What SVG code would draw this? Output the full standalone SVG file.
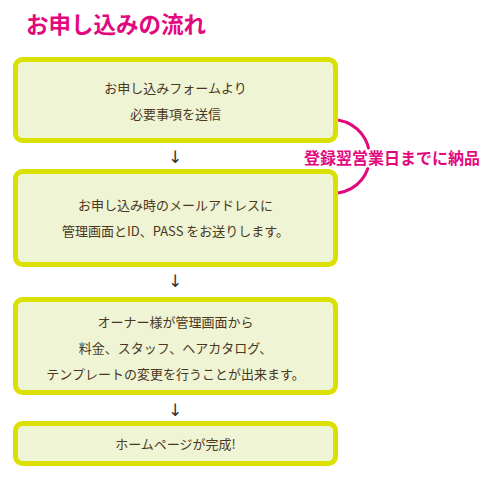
<svg xmlns="http://www.w3.org/2000/svg" width="500" height="480" viewBox="0 0 500 480">
<style>
.box{fill:#EEF4D4;stroke:#DCE000;stroke-width:5}
.t{font-family:"Noto Sans CJK JP","Noto Sans",sans-serif;font-size:13px;fill:#4A3722;text-anchor:middle}
.arr{font-family:"DejaVu Sans",sans-serif;font-size:17px;fill:#333;text-anchor:middle}
.title{font-family:"Noto Sans CJK JP",sans-serif;font-size:22.5px;font-weight:bold;fill:#E2097E}
.lab{font-family:"Noto Sans CJK JP",sans-serif;font-size:16px;font-weight:bold;fill:#E2097E;stroke:#fff;stroke-width:4;paint-order:stroke;stroke-linejoin:round}
</style>
<rect width="500" height="480" fill="#fff"/>
<text class="title" x="26" y="33">お申し込みの流れ</text>
<g id="connectors">
<path d="M338,120 C380,128 380,186 338,193" fill="none" stroke="#E2097E" stroke-width="3"/>
<text class="arr" x="175" y="163">↓</text>
<text class="arr" x="175" y="287">↓</text>
<text class="arr" x="175" y="416">↓</text>
<text class="lab" x="392" y="164" text-anchor="middle">登録翌営業日までに納品</text>
</g>
<g id="n1">
<rect class="box" x="15.5" y="59.5" width="320" height="81" rx="7"/>
<text class="t" x="175.5" y="93">お申し込みフォームより</text>
<text class="t" x="175.5" y="119">必要事項を送信</text>
</g>
<g id="n2">
<rect class="box" x="15.5" y="171.5" width="320" height="93" rx="7"/>
<text class="t" x="175.5" y="210">お申し込み時のメールアドレスに</text>
<text class="t" x="175.5" y="236">管理画面とID、PASS をお送りします。</text>
</g>
<g id="n3">
<rect class="box" x="15.5" y="299.5" width="320" height="93" rx="7"/>
<text class="t" x="175.5" y="327">オーナー様が管理画面から</text>
<text class="t" x="175.5" y="353">料金、スタッフ、ヘアカタログ、</text>
<text class="t" x="175.5" y="379">テンプレートの変更を行うことが出来ます。</text>
</g>
<g id="n4">
<rect class="box" x="15.5" y="423.5" width="320" height="40" rx="7"/>
<text class="t" x="175.5" y="449">ホームページが完成!</text>
</g>
</svg>
